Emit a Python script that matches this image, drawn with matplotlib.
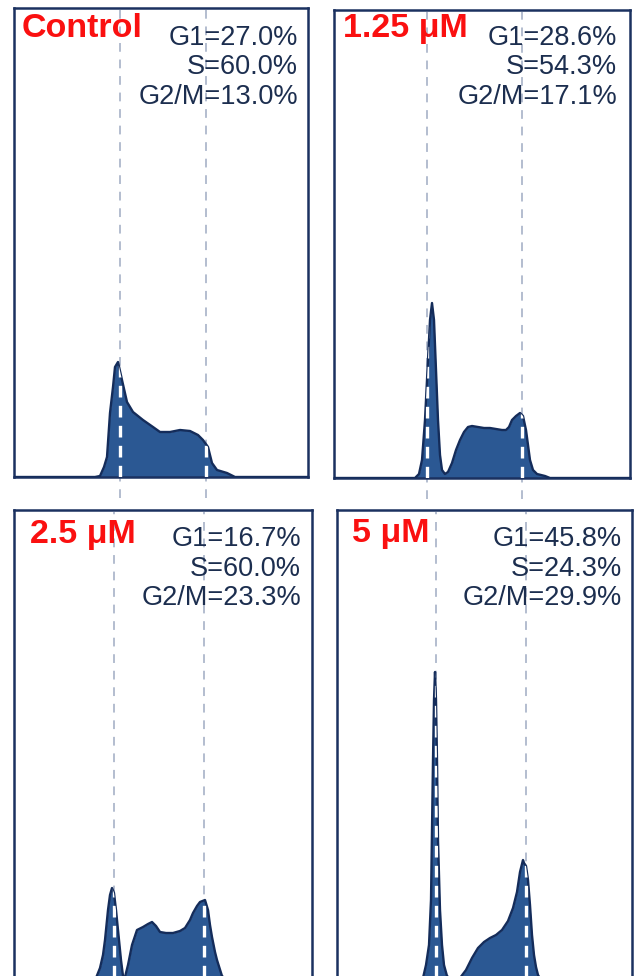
import matplotlib
matplotlib.use("Agg")
import matplotlib.pyplot as plt
import numpy as np

plt.rcParams['font.family'] = ['Liberation Sans', 'DejaVu Sans']

W, H = 635, 976

# ---------------- data (channel = position in panel, count = height above baseline) -------------
panel_titles = ['Control', '1.25 μM', '2.5 μM', '5 μM']
g1_pct = [27.0, 28.6, 16.7, 45.8]
s_pct = [60.0, 54.3, 60.0, 24.3]
g2m_pct = [13.0, 17.1, 23.3, 29.9]

# Control
ctrl_ch = [0, 81, 86, 90, 93, 96, 99, 101, 104, 108, 113, 119, 129, 139, 146, 156, 166, 176, 184, 189,
           194, 198, 203, 213, 221, 294]
ctrl_ct = [0, 0, 1, 10, 20, 64, 90, 110, 115, 97, 75, 65, 57, 50, 45, 45, 47, 46, 42, 37,
           30, 14, 7, 4, 0, 0]

# 1.25 uM
c125_ch = [0, 81, 85, 88, 91, 94, 96, 98, 100, 102, 104, 106, 108, 111, 114, 118, 122, 126, 130, 134,
           138, 144, 150, 156, 162, 168, 172, 175, 178, 182, 186, 189, 192, 194, 196, 199, 203, 211, 216, 296]
c125_ct = [0, 0, 4, 18, 58, 118, 158, 175, 158, 108, 58, 23, 8, 4, 6, 15, 28, 38, 46, 51,
           52, 51, 50, 50, 49, 48, 48, 51, 58, 62, 65, 62, 48, 33, 18, 8, 4, 2, 0, 0]

# 2.5 uM
c25_ch = [0, 76, 82, 86, 89, 91, 94, 96, 98, 100, 102, 105, 107, 109, 111, 114, 118, 123, 129, 134,
          138, 142, 146, 152, 159, 166, 171, 176, 179, 183, 186, 191, 194, 196, 198, 201, 203, 208, 214, 298]
c25_ct = [0, 0, 3, 13, 26, 41, 71, 86, 93, 88, 71, 41, 21, 5, 4, 16, 36, 51, 54, 57,
          59, 55, 49, 48, 48, 50, 53, 61, 68, 75, 79, 81, 71, 56, 44, 29, 21, 5, 0, 0]

# 5 uM
c5_ch = [0, 81, 86, 89, 92, 94, 95, 96, 97, 98, 99, 100, 101, 103, 105, 107, 110, 115, 123, 129,
         135, 141, 147, 153, 159, 165, 171, 176, 180, 183, 186, 187, 189, 191, 193, 195, 197, 199, 201, 204,
         209, 215, 295]
c5_ct = [0, 0, 3, 16, 36, 81, 151, 221, 281, 309, 281, 221, 141, 71, 36, 16, 5, 1, 3, 11,
         23, 33, 39, 43, 46, 51, 60, 73, 89, 109, 121, 118, 115, 101, 76, 46, 26, 14, 6, 1,
         0, 0, 0]

hist_ch = [ctrl_ch, c125_ch, c25_ch, c5_ch]
hist_ct = [ctrl_ct, c125_ct, c25_ct, c5_ct]

# G1 and G2/M gate channels
g1_gate = [106, 93, 100, 99]
g2_gate = [192, 188, 190, 189]

# ---------------- layout (pixels) ----------------
boxes = [(14, 8, 308, 477), (334, 10, 630, 478), (14, 510, 312, 981), (337, 510, 632, 981)]

frame_col = '#1b3160'
fill_col = '#2b5893'
edge_col = '#142c5a'
dash_col = '#b3bdcf'
text_col = '#1c2e4f'

fig = plt.figure(figsize=(W / 100, H / 100), dpi=100)

for i, (l, t, r, b) in enumerate(boxes):
    ax = fig.add_axes([l / W, 1 - b / H, (r - l) / W, (b - t) / H])
    ax.set_xlim(0, r - l)
    ax.set_ylim(0, b - t)
    ax.set_xticks([])
    ax.set_yticks([])
    for sp in ax.spines.values():
        sp.set_color(frame_col)
        sp.set_linewidth(1.8)

    x = np.array(hist_ch[i], dtype=float)
    y = np.array(hist_ct[i], dtype=float)

    ymin_line = -0.045 if i < 2 else 0.0
    for g in (g1_gate[i], g2_gate[i]):
        ax.axvline(g, ymin=ymin_line, ymax=0.995, color=dash_col, lw=1.4,
                   dashes=(4.5, 4), zorder=1, clip_on=False)

    poly = ax.fill_between(x, 0, y, color=fill_col, lw=0, zorder=2)
    ax.plot(x, y, color=edge_col, lw=1.7, zorder=3, solid_joinstyle='round')

    clip = poly.get_paths()[0]
    for g in (g1_gate[i], g2_gate[i]):
        ln = ax.axvline(g, color='white', lw=2.4, dashes=(3.5, 2.5), zorder=4)
        ln.set_clip_path(clip, transform=ax.transData)

# ---------------- text ----------------
title_pos = [(22, 37), (343, 37), (30, 543), (352, 542)]
stat_pos = [(298, 45), (617, 45), (301, 546), (622, 546)]
line_gap = 29.5

for i in range(4):
    tx, ty = title_pos[i]
    fig.text(tx / W, 1 - ty / H, panel_titles[i], color='#fa1010', fontsize=24.5,
             fontweight='bold', ha='left', va='baseline')
    sx, sy = stat_pos[i]
    lines = [f'G1={g1_pct[i]:.1f}%', f'S={s_pct[i]:.1f}%', f'G2/M={g2m_pct[i]:.1f}%']
    for k, s in enumerate(lines):
        fig.text(sx / W, 1 - (sy + k * line_gap) / H, s, color=text_col, fontsize=19.5,
                 ha='right', va='baseline')

fig.savefig('out.png', dpi=100)
